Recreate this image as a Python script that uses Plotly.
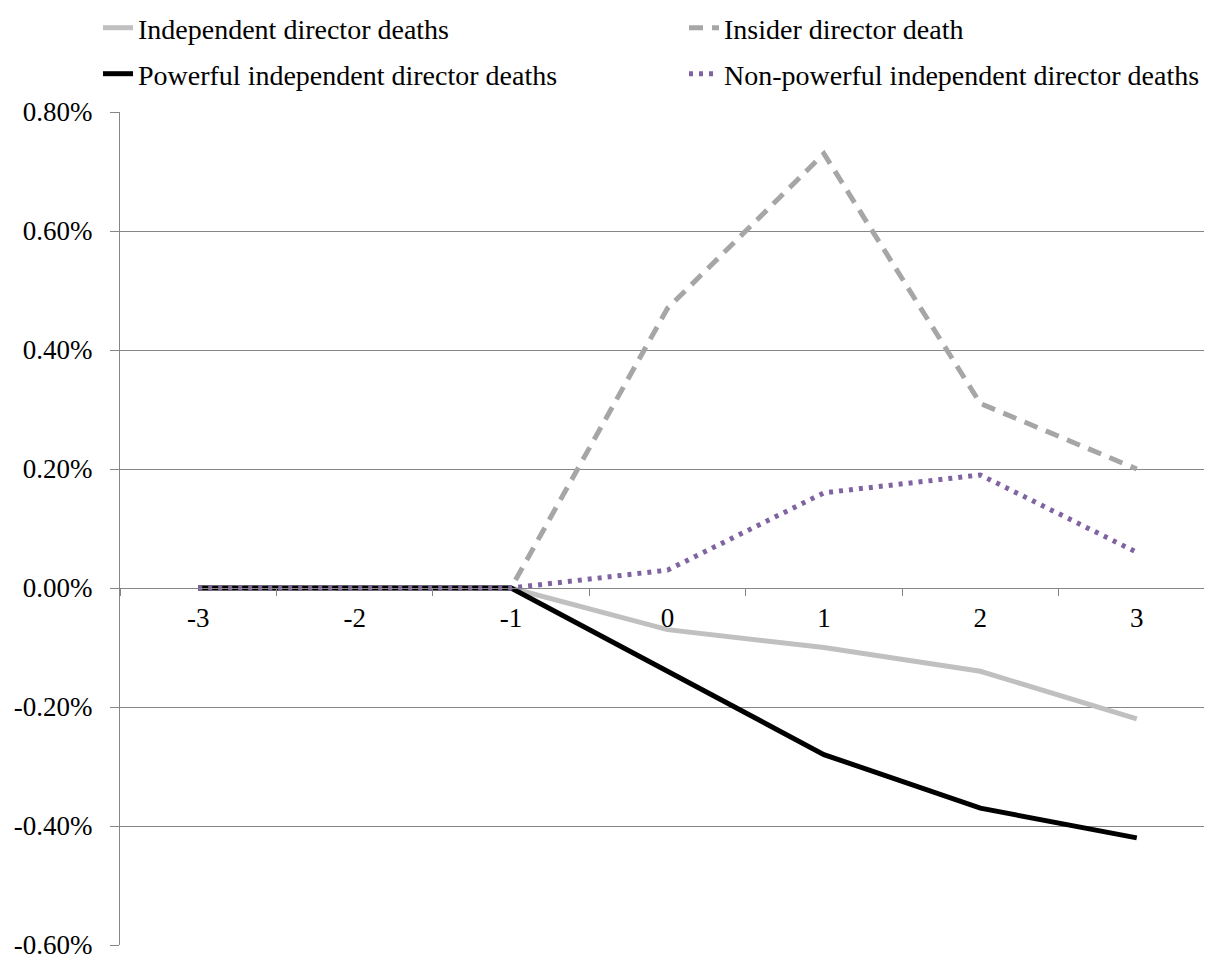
import plotly.graph_objects as go

days = ["-3", "-2", "-1", "0", "1", "2", "3"]
independent = [0.0, 0.0, 0.0, -0.0007, -0.0010, -0.0014, -0.0022]
insider = [0.0, 0.0, 0.0, 0.0047, 0.0073, 0.0031, 0.0020]
powerful = [0.0, 0.0, 0.0, -0.0014, -0.0028, -0.0037, -0.0042]
nonpowerful = [0.0, 0.0, 0.0, 0.0003, 0.0016, 0.0019, 0.0006]
y_tickvals = [-0.006, -0.004, -0.002, 0.0, 0.002, 0.004, 0.006, 0.008]
y_ticktext = ["-0.60%", "-0.40%", "-0.20%", "0.00%", "0.20%", "0.40%", "0.60%", "0.80%"]

FONT = "Liberation Serif"
FS = 28
FT = 27
GRID = "#868686"

fig = go.Figure()
fig.add_trace(go.Scatter(x=days, y=independent, mode="lines", name="Independent director deaths",
                         line=dict(color="#C0C0C0", width=5), legend="legend"))
fig.add_trace(go.Scatter(x=days, y=insider, mode="lines", name="Insider director death",
                         line=dict(color="#A6A6A6", width=5, dash="14px,9px"), legend="legend2"))
fig.add_trace(go.Scatter(x=days, y=powerful, mode="lines", name="Powerful independent director deaths",
                         line=dict(color="#000000", width=5), legend="legend3"))
fig.add_trace(go.Scatter(x=days, y=nonpowerful, mode="lines", name="Non-powerful independent director deaths",
                         line=dict(color="#8064A2", width=5, dash="4px,6px"), legend="legend4"))

leg_common = dict(orientation="h", xref="container", yref="container", xanchor="left", yanchor="middle",
                  font=dict(family=FONT, size=FS, color="#000000"), bgcolor="rgba(0,0,0,0)")

x1 = 90 / 1212
x2 = 676 / 1212
r1 = 1 - 20 / 957
r2 = 1 - 66 / 957

fig.update_layout(
    width=1212, height=957,
    showlegend=True,
    margin=dict(l=112, r=5, t=104, b=20, autoexpand=False),
    paper_bgcolor="white", plot_bgcolor="white",
    font=dict(family=FONT, size=FS, color="#000000"),
    legend=dict(x=x1, y=r1, **leg_common),
    legend2=dict(x=x2, y=r1, **leg_common),
    legend3=dict(x=x1, y=r2, **leg_common),
    legend4=dict(x=x2, y=r2, **leg_common),
    xaxis=dict(type="category", range=[-0.5, 6.5], anchor="free", position=357 / 833,
               showline=True, linecolor=GRID, linewidth=1, ticks="outside", ticklen=7, tickcolor=GRID,
               tickson="boundaries", showgrid=False, zeroline=False,
               tickfont=dict(family=FONT, size=FT, color="#000000"), ticklabelstandoff=6),
    yaxis=dict(range=[-0.006, 0.008], tickvals=y_tickvals, ticktext=y_ticktext,
               showline=True, linecolor=GRID, linewidth=1, ticks="outside", ticklen=9, tickcolor=GRID,
               showgrid=True, gridcolor=GRID, gridwidth=1, zeroline=False,
               tickfont=dict(family=FONT, size=FT, color="#000000"), ticklabelstandoff=12),
)

fig.write_html("out.html")
